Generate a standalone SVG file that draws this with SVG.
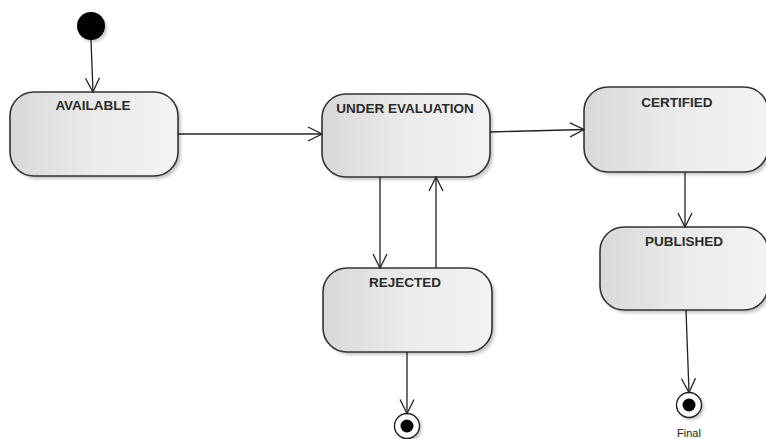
<svg xmlns="http://www.w3.org/2000/svg" width="766" height="439" viewBox="0 0 766 439">
<style>
.state{stroke:#333;stroke-width:1.6;fill:url(#g)}
.shadow{fill:#999;opacity:0.55;filter:url(#blur)}
.lbl{font-family:"Liberation Sans",Arial,sans-serif;font-weight:bold;font-size:13.5px;fill:#2a2a2a;text-anchor:middle}
.edge{stroke:#222;stroke-width:1.3;fill:none;marker-end:url(#arr)}
</style>
<defs>
<linearGradient id="g" x1="0" y1="0" x2="1" y2="0">
<stop offset="0" stop-color="#d8d8d8"/>
<stop offset="0.5" stop-color="#ebebeb"/>
<stop offset="1" stop-color="#f3f3f3"/>
</linearGradient>
<filter id="blur" x="-10%" y="-10%" width="120%" height="120%"><feGaussianBlur stdDeviation="1.5"/></filter>
<marker id="arr" viewBox="0 0 16 16" refX="15" refY="8" markerWidth="16" markerHeight="16" markerUnits="userSpaceOnUse" orient="auto">
<path d="M1,1 L15,8 L1,15" fill="none" stroke="#222" stroke-width="1.3"/>
</marker>
</defs>
<g id="initial">
<circle cx="93" cy="28" r="14" class="shadow"/>
<circle cx="91" cy="26" r="14" fill="#000"/>
</g>
<g id="available">
<rect x="13" y="95" width="168" height="84" rx="24" class="shadow"/>
<rect x="10" y="92" width="168" height="84" rx="24" class="state"/>
<text x="93" y="110" class="lbl">AVAILABLE</text>
</g>
<g id="under-evaluation">
<rect x="325" y="97" width="168" height="83" rx="24" class="shadow"/>
<rect x="322" y="94" width="168" height="83" rx="24" class="state"/>
<text x="405" y="112.5" class="lbl">UNDER EVALUATION</text>
</g>
<g id="certified">
<rect x="587" y="90" width="184" height="85" rx="24" class="shadow"/>
<rect x="584" y="87" width="184" height="85" rx="24" class="state"/>
<text x="677" y="106.5" class="lbl">CERTIFIED</text>
</g>
<g id="published">
<rect x="603" y="230" width="168" height="83" rx="24" class="shadow"/>
<rect x="600" y="227" width="168" height="83" rx="24" class="state"/>
<text x="684" y="246" class="lbl">PUBLISHED</text>
</g>
<g id="rejected">
<rect x="326" y="271" width="169" height="84" rx="24" class="shadow"/>
<rect x="323" y="268" width="169" height="84" rx="24" class="state"/>
<text x="405" y="286.5" class="lbl">REJECTED</text>
</g>
<g id="final-rejected">
<circle cx="409" cy="428" r="13" class="shadow"/>
<circle cx="407" cy="426" r="12.5" fill="#fff" stroke="#222" stroke-width="1.4"/>
<circle cx="407" cy="426" r="6.5" fill="#000"/>
</g>
<g id="final-published">
<circle cx="691" cy="407" r="13" class="shadow"/>
<circle cx="689" cy="405" r="12.5" fill="#fff" stroke="#222" stroke-width="1.4"/>
<circle cx="689" cy="405" r="6.5" fill="#000"/>
<text x="689" y="437" font-family="'Liberation Sans',Arial,sans-serif" font-size="11" fill="#222" text-anchor="middle">Final</text>
</g>
<g id="connectors">
<line x1="91" y1="40" x2="93" y2="92" class="edge"/>
<line x1="178" y1="134" x2="322" y2="134" class="edge"/>
<line x1="490" y1="132" x2="584" y2="129.5" class="edge"/>
<line x1="380" y1="177" x2="380" y2="268" class="edge"/>
<line x1="436" y1="268" x2="436" y2="177" class="edge"/>
<line x1="685" y1="172" x2="685" y2="227" class="edge"/>
<line x1="686" y1="310" x2="689" y2="392.5" class="edge"/>
<line x1="407" y1="352" x2="407" y2="413.5" class="edge"/>
</g>
</svg>
